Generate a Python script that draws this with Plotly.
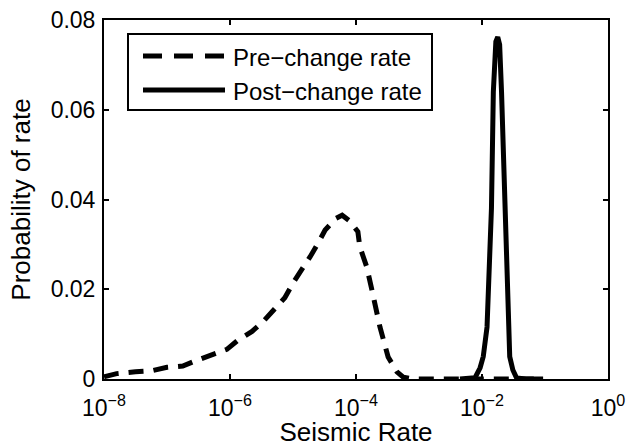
import plotly.graph_objects as go

# ---- data (x as log10 of seismic rate) ----
pre_log10_rate = [-8.0, -7.8, -7.5, -7.25, -7.0, -6.75, -6.5, -6.3, -6.05, -5.87,
                  -5.65, -5.48, -5.3, -5.13, -5.0, -4.86, -4.73, -4.6, -4.49, -4.32,
                  -4.22, -4.1, -3.97, -3.94, -3.83, -3.75, -3.67, -3.62, -3.49, -3.35,
                  -3.25, -3.1, -2.0, -1.05]
pre_prob = [0.0005, 0.0012, 0.0016, 0.0018, 0.0026, 0.0029, 0.0043, 0.0053, 0.0066, 0.0087,
            0.0106, 0.0127, 0.0156, 0.0181, 0.0214, 0.0243, 0.0272, 0.0303, 0.0332, 0.0358,
            0.0365, 0.0352, 0.0328, 0.0295, 0.0250, 0.0200, 0.0150, 0.0116, 0.0049, 0.0016,
            0.0004, 0.0, 0.0, 0.0]

post_log10_rate = [-2.35, -2.11, -2.03, -1.98, -1.92, -1.85, -1.82, -1.78, -1.75, -1.72,
                   -1.69, -1.64, -1.59, -1.56, -1.51, -1.45, -1.3, -1.03]
post_prob = [0.0, 0.0003, 0.0025, 0.005, 0.0116, 0.038, 0.064, 0.0752, 0.0762, 0.0745,
             0.064, 0.038, 0.0116, 0.005, 0.002, 0.0002, 0.0, 0.0]

x_tick_vals = [1e-8, 1e-6, 1e-4, 1e-2, 1e0]
x_tick_text = ["10<sup>−8</sup>", "10<sup>−6</sup>", "10<sup>−4</sup>", "10<sup>−2</sup>", "10<sup>0</sup>"]
y_tick_vals = [0, 0.02, 0.04, 0.06, 0.08]
y_tick_text = ["0", "0.02", "0.04", "0.06", "0.08"]
legend_labels = ["Pre−change rate", "Post−change rate"]

pre_rate = [10 ** e for e in pre_log10_rate]
post_rate = [10 ** e for e in post_log10_rate]

FONT = "Liberation Sans, Arial, Helvetica, sans-serif"
LW = 5

W, H = 627, 447
# plot area in page pixels
L, R, T, B = 104, 608, 20, 379

fig = go.Figure()
fig.add_trace(go.Scatter(x=pre_rate, y=pre_prob, mode="lines", name=legend_labels[0],
                         line=dict(color="black", width=LW, dash="15px,10px"),
                         showlegend=False, cliponaxis=True))
fig.add_trace(go.Scatter(x=post_rate, y=post_prob, mode="lines", name=legend_labels[1],
                         line=dict(color="black", width=LW),
                         showlegend=False, cliponaxis=True))

# ---- legend drawn MATLAB-style (long line samples) ----
def px(xp):
    return (xp - L) / (R - L)
def py(yp):
    return (B - yp) / (B - T)

fig.add_shape(type="rect", xref="paper", yref="paper",
              x0=px(128), x1=px(432), y0=py(110), y1=py(34),
              line=dict(color="black", width=2), fillcolor="white", layer="above")
rows = [56, 90]
dashes = ["19px,12px", "solid"]
for i, lab in enumerate(legend_labels):
    fig.add_shape(type="line", xref="paper", yref="paper",
                  x0=px(143), x1=px(225), y0=py(rows[i]), y1=py(rows[i]),
                  line=dict(color="black", width=LW, dash=dashes[i]), layer="above")
    fig.add_annotation(text=lab, xref="paper", yref="paper", x=px(231), y=py(rows[i] + 2),
                       xanchor="left", yanchor="middle", showarrow=False,
                       font=dict(family=FONT, size=24, color="black"))

axis_common = dict(showline=True, linecolor="black", linewidth=2, mirror="ticks",
                   ticks="inside", ticklen=5, tickwidth=1.5, tickcolor="black",
                   showgrid=False, zeroline=False, automargin=False,
                   tickfont=dict(family=FONT, size=23, color="black"))

fig.update_layout(
    width=W, height=H,
    margin=dict(l=L, r=W - R, t=T, b=H - B),
    paper_bgcolor="white", plot_bgcolor="white",
    font=dict(family=FONT, color="black"),
    xaxis=dict(type="log", range=[-8, 0], tickmode="array", tickvals=x_tick_vals,
               ticktext=x_tick_text, ticklabelstandoff=7,
               title=dict(text="Seismic Rate", font=dict(family=FONT, size=26), standoff=12),
               **axis_common),
    yaxis=dict(range=[0, 0.08], tickmode="array", tickvals=y_tick_vals, ticktext=y_tick_text,
               ticklabelstandoff=2,
               title=dict(text="Probability of rate", font=dict(family=FONT, size=26), standoff=13),
               **axis_common),
)

fig.write_html("out.html", config={"displayModeBar": False},
               post_script="document.body.style.margin='0';document.body.style.overflow='hidden';")
